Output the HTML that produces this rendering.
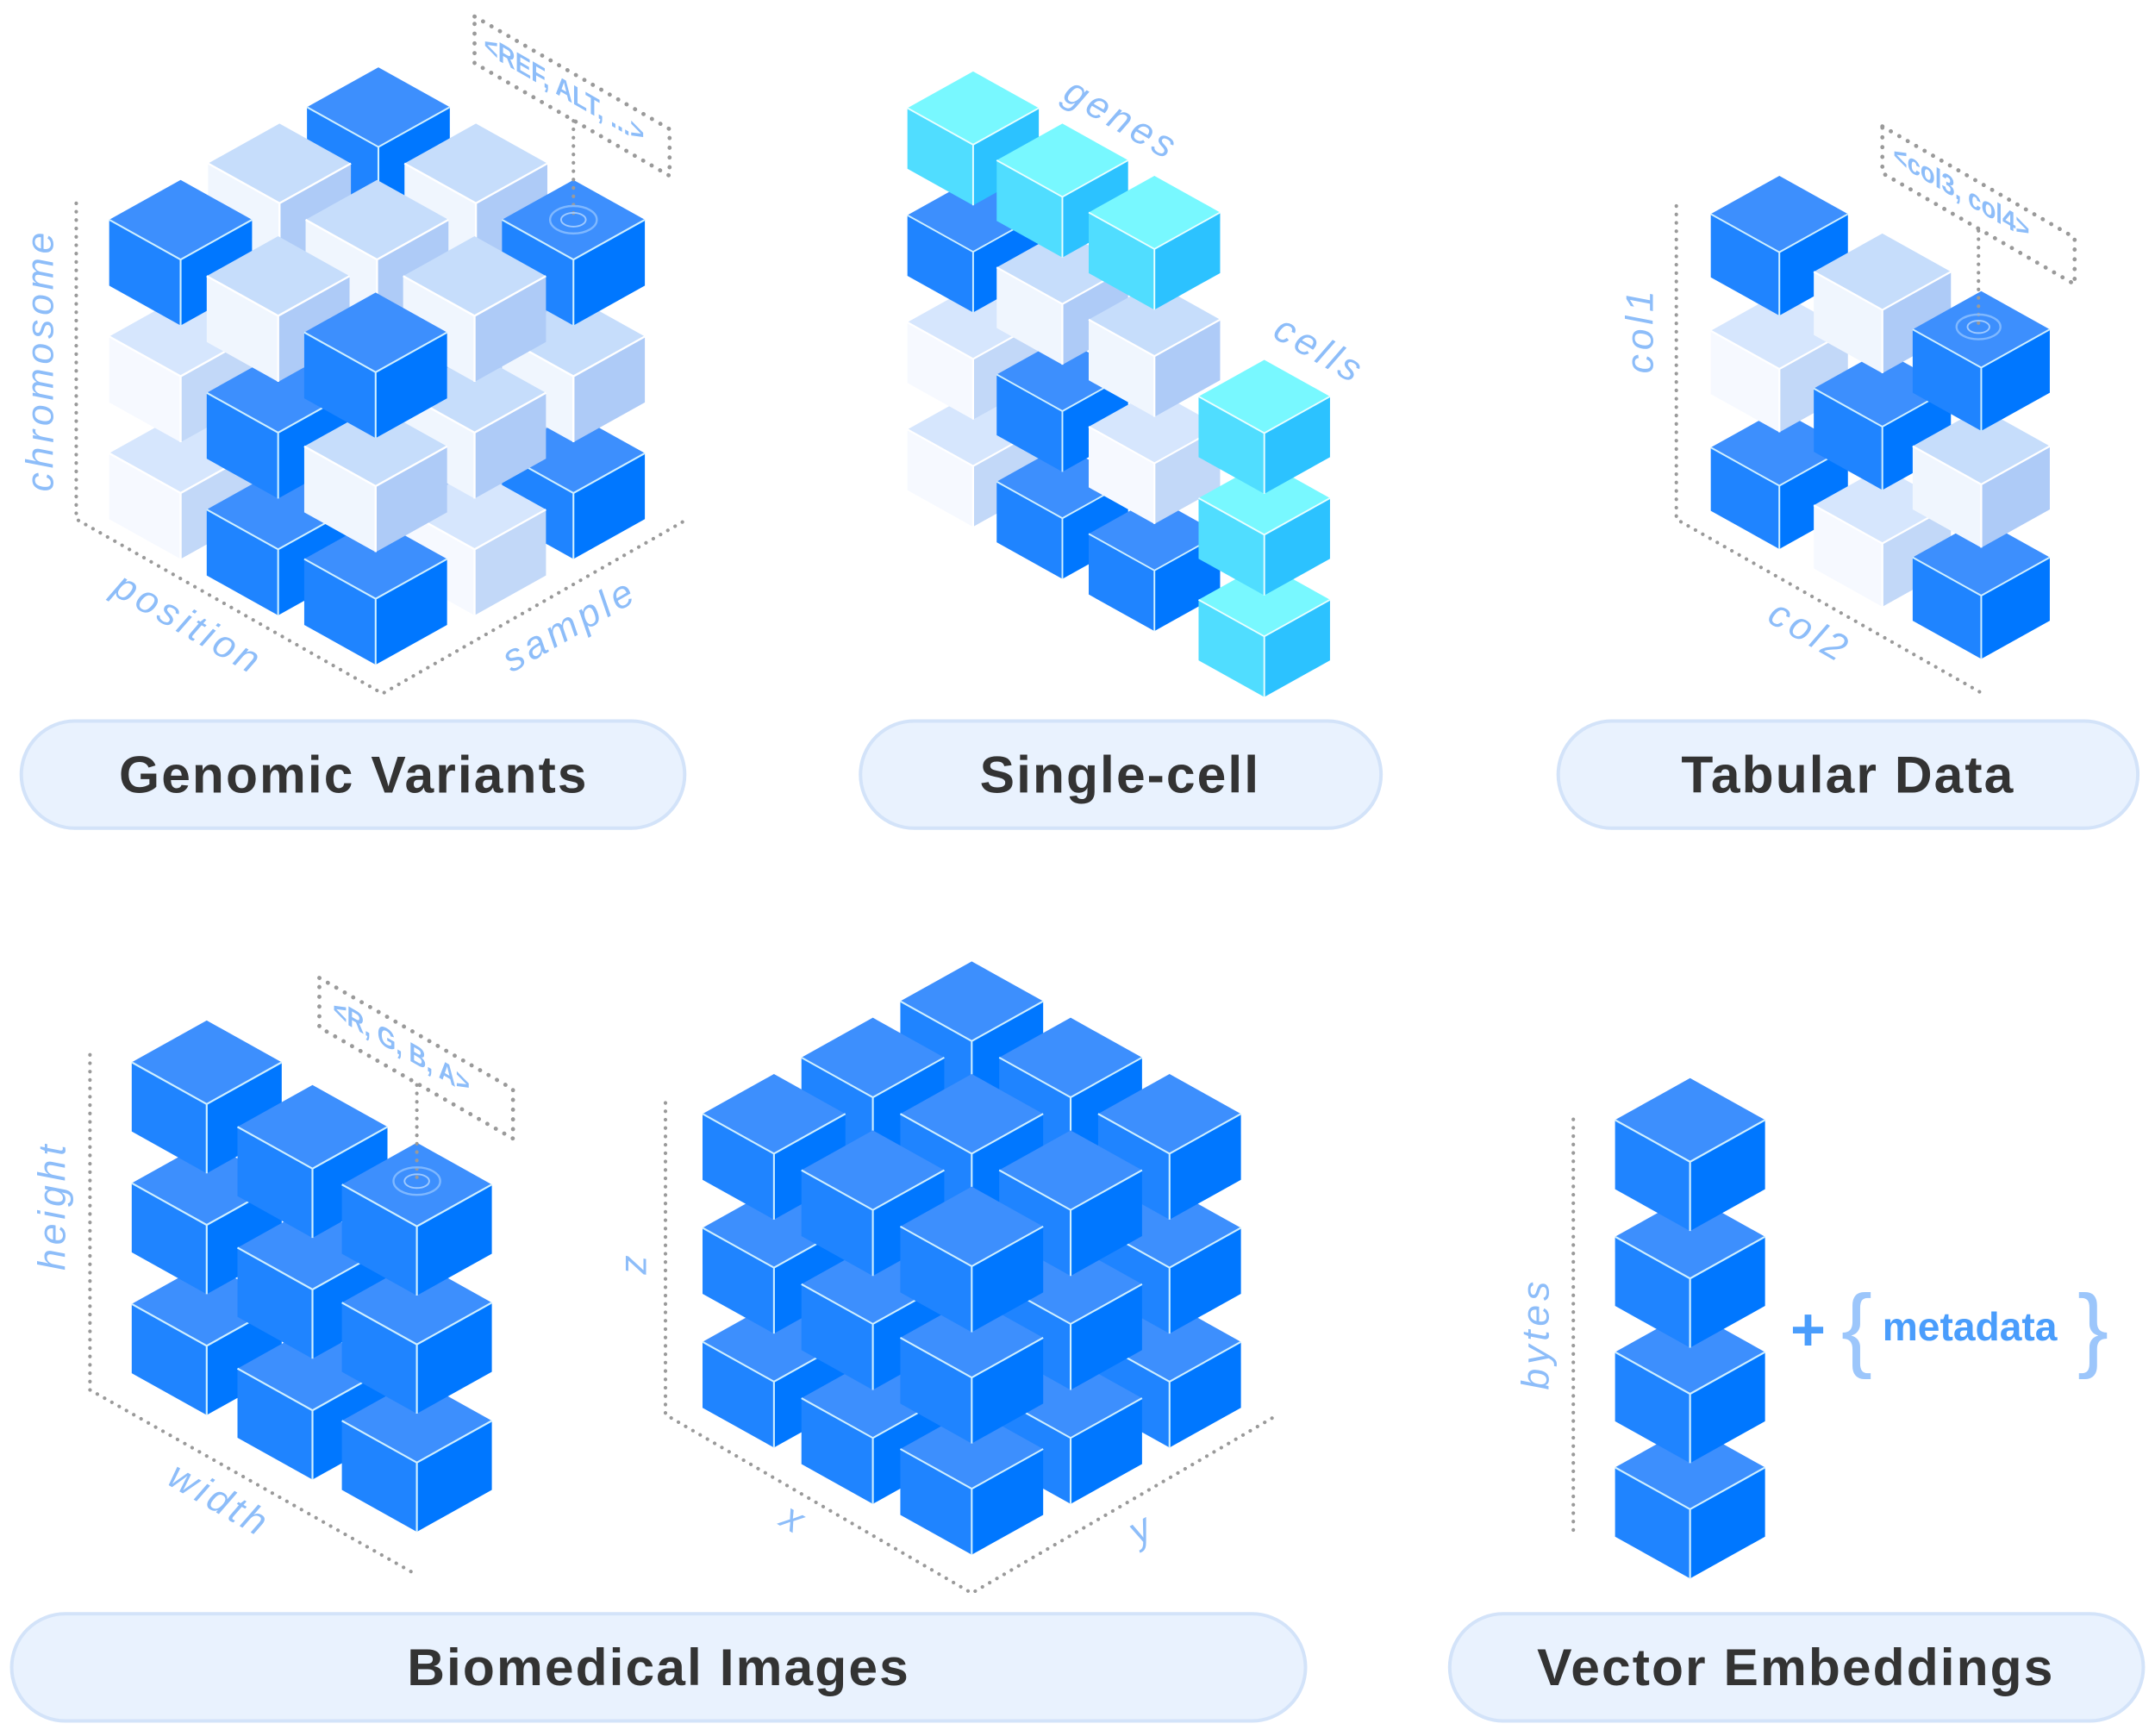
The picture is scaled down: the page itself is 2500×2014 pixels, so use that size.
<!DOCTYPE html>
<html><head><meta charset="utf-8"><style>
html,body{margin:0;padding:0;background:#fff;}
svg{display:block;}
.ax{fill:#8dbdf9;font-family:"Liberation Sans",sans-serif;font-style:italic;font-size:28px;letter-spacing:3px;}
.pill{fill:#e9f2fe;stroke:#d3e3f9;stroke-width:2.5;}
.pt{fill:#333;font-family:"Liberation Sans",sans-serif;font-weight:bold;font-size:38px;text-anchor:middle;letter-spacing:1.3px;}
.dot{fill:none;stroke:#9a9a9a;stroke-width:2.6;stroke-dasharray:0.1 6;stroke-linecap:round;}
.box{fill:none;stroke:#9a9a9a;stroke-width:3;stroke-dasharray:0.1 7;stroke-linecap:round;}
.bt{fill:#8dbdf9;font-family:"Liberation Sans",sans-serif;font-weight:bold;font-size:20px;}
</style></head><body>
<svg width="2500" height="2014" viewBox="0 0 1568 1264" xmlns="http://www.w3.org/2000/svg">
<defs>
<g id="D"><path d="M0,0L52,29L0,58L-52,29Z" fill="#3d8ffd"/><path d="M-52,29L0,58L0,106L-52,77Z" fill="#1f84ff"/><path d="M0,58L52,29L52,77L0,106Z" fill="#0077ff"/><path d="M-52,29L0,58L52,29M0,58L0,106" stroke="#cfefff" stroke-width="1.3" fill="none"/></g>
<g id="L"><path d="M0,0L52,29L0,58L-52,29Z" fill="#c6ddfb"/><path d="M-52,29L0,58L0,106L-52,77Z" fill="#f0f6fe"/><path d="M0,58L52,29L52,77L0,106Z" fill="#aecbf7"/><path d="M-52,29L0,58L52,29M0,58L0,106" stroke="#fff" stroke-width="1.5" fill="none"/></g>
<g id="P"><path d="M0,0L52,29L0,58L-52,29Z" fill="#d6e6fd"/><path d="M-52,29L0,58L0,106L-52,77Z" fill="#f6f9ff"/><path d="M0,58L52,29L52,77L0,106Z" fill="#c2d8f8"/><path d="M-52,29L0,58L52,29M0,58L0,106" stroke="#fff" stroke-width="1.5" fill="none"/></g>
<g id="C"><path d="M0,0L52,29L0,58L-52,29Z" fill="#78f8ff"/><path d="M-52,29L0,58L0,106L-52,77Z" fill="#50ddff"/><path d="M0,58L52,29L52,77L0,106Z" fill="#2cc2ff"/><path d="M-52,29L0,58L52,29M0,58L0,106" stroke="#e8ffff" stroke-width="1.3" fill="none"/></g>
</defs>

<path class="dot" d="M55,148L55,378L278,505L500,378"/>
<text class="ax" transform="translate(38,358) rotate(-90)">chromosome</text>
<text class="ax" transform="translate(80,432) rotate(30)">position</text>
<text class="ax" transform="translate(372,490) rotate(-30)">sample</text>

<use href="#L" x="275" y="219"/><use href="#L" x="346" y="260"/><use href="#L" x="203" y="260"/>
<use href="#D" x="417" y="301"/><use href="#L" x="274" y="301"/><use href="#P" x="131" y="301"/>
<use href="#P" x="345" y="342"/><use href="#D" x="202" y="342"/><use href="#D" x="273" y="378"/>
<use href="#L" x="275" y="134"/><use href="#L" x="346" y="175"/><use href="#L" x="203" y="175"/>
<use href="#L" x="417" y="216"/><use href="#L" x="274" y="216"/><use href="#P" x="131" y="216"/>
<use href="#L" x="345" y="257"/><use href="#D" x="202" y="257"/><use href="#L" x="273" y="296"/>
<use href="#D" x="275" y="49"/><use href="#L" x="346" y="90"/><use href="#L" x="203" y="90"/>
<use href="#D" x="417" y="131"/><use href="#L" x="274" y="131"/><use href="#D" x="131" y="131"/>
<use href="#L" x="345" y="172"/><use href="#L" x="202" y="172"/><use href="#D" x="273" y="213"/>

<path class="box" d="M345,12L487,94L487,128L345,46Z"/>
<text class="bt" transform="matrix(0.866,0.5,0,1,352,38)">&lt;REF, ALT, ...&gt;</text>
<path class="dot" d="M417,88L417,158"/>
<ellipse cx="417" cy="160" rx="17" ry="10" fill="none" stroke="#7fb8ff" stroke-width="1.5"/>
<ellipse cx="417" cy="160" rx="9" ry="5" fill="none" stroke="#9fcaff" stroke-width="1.2"/>

<text class="ax" transform="translate(772,72) rotate(30)">genes</text>
<text class="ax" transform="translate(925,245) rotate(30)">cells</text>
<use href="#P" transform="translate(708,286) scale(0.92)"/>
<use href="#P" transform="translate(708,208) scale(0.92)"/>
<use href="#D" transform="translate(708,130) scale(0.92)"/>
<use href="#C" transform="translate(708,52) scale(0.92)"/>
<use href="#D" transform="translate(773,324) scale(0.92)"/>
<use href="#D" transform="translate(773,246) scale(0.92)"/>
<use href="#L" transform="translate(773,168) scale(0.92)"/>
<use href="#C" transform="translate(773,90) scale(0.92)"/>
<use href="#D" transform="translate(840,362) scale(0.92)"/>
<use href="#P" transform="translate(840,284) scale(0.92)"/>
<use href="#L" transform="translate(840,206) scale(0.92)"/>
<use href="#C" transform="translate(840,128) scale(0.92)"/>
<use href="#C" transform="translate(920,410) scale(0.92)"/>
<use href="#C" transform="translate(920,336) scale(0.92)"/>
<use href="#C" transform="translate(920,262) scale(0.92)"/>

<path class="dot" d="M1220,150L1220,378L1443,505"/>
<text class="ax" transform="translate(1203,272) rotate(-90)">col1</text>
<text class="ax" transform="translate(1285,452) rotate(30)">col2</text>
<use href="#D" transform="translate(1295,298) scale(0.96)"/>
<use href="#P" transform="translate(1295,213) scale(0.96)"/>
<use href="#D" transform="translate(1295,128) scale(0.96)"/>
<use href="#P" transform="translate(1370,340) scale(0.96)"/>
<use href="#D" transform="translate(1370,255) scale(0.96)"/>
<use href="#L" transform="translate(1370,170) scale(0.96)"/>
<use href="#D" transform="translate(1442,378) scale(0.96)"/>
<use href="#L" transform="translate(1442,297) scale(0.96)"/>
<use href="#D" transform="translate(1442,212) scale(0.96)"/>
<path class="box" d="M1370,92L1510,173L1510,207L1370,126Z"/>
<text class="bt" transform="matrix(0.866,0.5,0,1,1378,118)">&lt;col3, col4&gt;</text>
<path class="dot" d="M1440,168L1440,236"/>
<ellipse cx="1440" cy="238" rx="16" ry="9" fill="none" stroke="#7fb8ff" stroke-width="1.5"/>
<ellipse cx="1440" cy="238" rx="8" ry="4.5" fill="none" stroke="#9fcaff" stroke-width="1.2"/>

<path class="dot" d="M65,768L65,1012L300,1145"/>
<text class="ax" transform="translate(47,925) rotate(-90)">height</text>
<text class="ax" transform="translate(120,1080) rotate(30)">width</text>
<use href="#D" transform="translate(150,919) scale(1.05)"/>
<use href="#D" transform="translate(150,831) scale(1.05)"/>
<use href="#D" transform="translate(150,743) scale(1.05)"/>
<use href="#D" transform="translate(227,966) scale(1.05)"/>
<use href="#D" transform="translate(227,878) scale(1.05)"/>
<use href="#D" transform="translate(227,790) scale(1.05)"/>
<use href="#D" transform="translate(303,1004) scale(1.05)"/>
<use href="#D" transform="translate(303,918) scale(1.05)"/>
<use href="#D" transform="translate(303,832) scale(1.05)"/>
<path class="box" d="M232,712L373,793L373,829L232,748Z"/>
<text class="bt" transform="matrix(0.866,0.5,0,1,242,740)">&lt;R, G, B, A&gt;</text>
<path class="dot" d="M303,790L303,858"/>
<ellipse cx="303" cy="860" rx="17" ry="10" fill="none" stroke="#7fb8ff" stroke-width="1.5"/>
<ellipse cx="303" cy="860" rx="9" ry="5" fill="none" stroke="#9fcaff" stroke-width="1.2"/>

<path class="dot" d="M484,803L484,1030L707,1160L930,1030"/>
<text class="ax" transform="translate(470,928) rotate(-90)">z</text>
<text class="ax" transform="translate(566,1110) rotate(30)">x</text>
<text class="ax" transform="translate(828,1125) rotate(-30)">y</text>
<use href="#D" x="707" y="866"/><use href="#D" x="779" y="907"/><use href="#D" x="635" y="907"/>
<use href="#D" x="851" y="948"/><use href="#D" x="707" y="948"/><use href="#D" x="563" y="948"/>
<use href="#D" x="779" y="989"/><use href="#D" x="635" y="989"/><use href="#D" x="707" y="1026"/>
<use href="#D" x="707" y="783"/><use href="#D" x="779" y="824"/><use href="#D" x="635" y="824"/>
<use href="#D" x="851" y="865"/><use href="#D" x="707" y="865"/><use href="#D" x="563" y="865"/>
<use href="#D" x="779" y="906"/><use href="#D" x="635" y="906"/><use href="#D" x="707" y="945"/>
<use href="#D" x="707" y="700"/><use href="#D" x="779" y="741"/><use href="#D" x="635" y="741"/>
<use href="#D" x="851" y="782"/><use href="#D" x="707" y="782"/><use href="#D" x="563" y="782"/>
<use href="#D" x="779" y="823"/><use href="#D" x="635" y="823"/><use href="#D" x="707" y="864"/>

<path class="dot" d="M1145,815L1145,1115"/>
<text class="ax" transform="translate(1127,1012) rotate(-90)">bytes</text>
<use href="#D" transform="translate(1230,1038) scale(1.05)"/>
<use href="#D" transform="translate(1230,954) scale(1.05)"/>
<use href="#D" transform="translate(1230,870) scale(1.05)"/>
<use href="#D" transform="translate(1230,785) scale(1.05)"/>
<text x="1303" y="983" fill="#4a9dfc" font-family="Liberation Sans,sans-serif" font-weight="bold" font-size="44">+</text>
<text x="1340" y="990" fill="#9cc6fb" font-family="Liberation Sans,sans-serif" font-size="68">{</text>
<text x="1370" y="976" fill="#4a9dfc" font-family="Liberation Sans,sans-serif" font-weight="bold" font-size="29">metadata</text>
<text x="1512" y="990" fill="#9cc6fb" font-family="Liberation Sans,sans-serif" font-size="68">}</text>

<rect class="pill" x="15" y="525" width="483" height="78" rx="39"/>
<text class="pt" x="257" y="577">Genomic Variants</text>
<rect class="pill" x="626" y="525" width="379" height="78" rx="39"/>
<text class="pt" x="815" y="577">Single-cell</text>
<rect class="pill" x="1134" y="525" width="422" height="78" rx="39"/>
<text class="pt" x="1345" y="577">Tabular Data</text>
<rect class="pill" x="8" y="1175" width="942" height="78" rx="39"/>
<text class="pt" x="479" y="1227">Biomedical Images</text>
<rect class="pill" x="1055" y="1175" width="505" height="78" rx="39"/>
<text class="pt" x="1307" y="1227">Vector Embeddings</text>
</svg>
</body></html>
